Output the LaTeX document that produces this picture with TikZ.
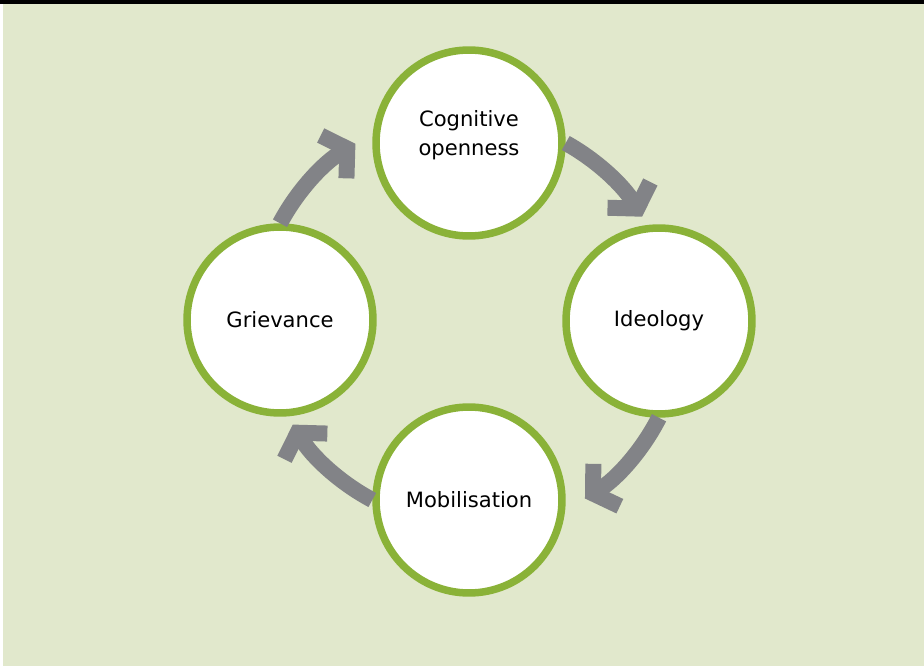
\documentclass[tikz,border=0pt]{standalone}
\usepackage{fontspec}
\setmainfont{DejaVu Sans}
\usepackage{tikz}
\usetikzlibrary{positioning, arrows.meta}

\definecolor{panelgreen}{RGB}{225,232,204}
\definecolor{ringgreen}{RGB}{138,178,56}
\definecolor{flowgrey}{RGB}{130,131,135}

\tikzset{
  phase/.style={draw=ringgreen, circle, fill=white, line width=0.15cm,
    minimum size=3.72cm, inner sep=0pt, align=center,
    font=\fontsize{12}{17}\selectfont},
  cyc/.style={draw=flowgrey, line width=0.32cm,
    -{Straight Barb[length=0.32cm, width=1.0cm, line width=0.32cm]}}
}

\begin{document}
\begin{tikzpicture}[x=0.02cm, y=0.02cm]
  % panel
  \fill[panelgreen] (0,0) rectangle (924,-666);
  \fill[white] (0,0) rectangle (3,-666);
  \fill[black] (0,0) rectangle (924,-4);
  \useasboundingbox (0,0) rectangle (924,-666);

  \node[phase] (cog) at (469,-143) {Cognitive\\openness\\[-5.6pt]{}};
  \node[phase] (ide) at (659,-321) {Ideology};
  \node[phase] (mob) at (469,-500) {Mobilisation};
  \node[phase] (grv) at (280,-320) {Grievance};

  % cycle
  \draw[cyc] (grv.north) arc[start angle=152, end angle=121, radius=205];
  \draw[cyc] (cog.east) arc[start angle=61, end angle=31, radius=205];
  \draw[cyc] (ide.south) arc[start angle=-27, end angle=-58, radius=205];
  \draw[cyc] (mob.west) arc[start angle=-118, end angle=-149, radius=205];
\end{tikzpicture}
\end{document}
